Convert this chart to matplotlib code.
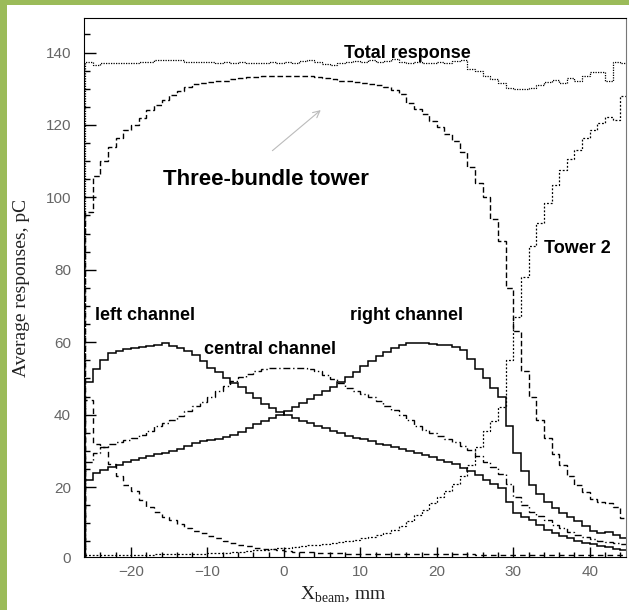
import numpy as np
import matplotlib
matplotlib.use("Agg")
import matplotlib.pyplot as plt
from matplotlib.patches import Rectangle
from matplotlib.ticker import MultipleLocator

plt.rcParams['mathtext.fontset'] = 'custom'
plt.rcParams['mathtext.rm'] = 'Liberation Serif'

# 1 mm bins of beam position
edges = np.arange(-26, 46, 1)

total = [137.3, 136.6, 137, 137.2, 137, 137.1, 137, 137.3, 137.5, 137.8,
         138, 137.8, 137.8, 137.5, 137.4, 137.3, 137.4, 137.2, 137.4, 137.2,
         137.5, 137.2, 137.1, 137.2, 137.5, 137.2, 137.3, 137, 137.6, 137.9,
         137.4, 136.9, 136.6, 137.2, 137.4, 137.6, 137.3, 137.8, 137.5, 137.7,
         138.2, 137.3, 137.2, 137.5, 137.2, 137, 137.4, 137.2, 137.6, 138,
         135.5, 135, 133.5, 132.8, 131.5, 130.2, 130, 130, 130.2, 131,
         131.8, 132.5, 131.5, 133, 132, 133.5, 134.5, 134.5, 132, 137.5, 137]

three_bundle = [96, 106, 110, 114, 116.5, 118.5, 120, 122, 124, 125.5,
                127, 128.2, 129.4, 130.5, 131.2, 131.5, 131.8, 132, 132.2, 132.6,
                133, 133.3, 133.3, 133.4, 133.4, 133.5, 133.5, 133.6, 133.6, 133.5,
                133.3, 133, 132.6, 132.2, 132, 131.8, 131.5, 131.3, 131, 130.4,
                129.6, 128.5, 126, 124.5, 123, 121, 119.5, 117.5, 115.5, 112.5,
                108.5, 104, 100, 94, 88, 75, 63, 52, 45, 38.5,
                33.5, 29, 26, 23, 20.5, 18.5, 16.8, 15.8, 15.5, 14.5, 11.5]

tower1 = [44, 32, 31, 26.5, 23, 20.5, 18.8, 16.5, 14.5, 13,
          11.8, 10.8, 9.7, 8.8, 8, 7.2, 6.5, 5.8, 5.2, 4.6,
          4.1, 3.7, 3.3, 3, 2.8, 2.6, 2.4, 2.2, 2.1, 2,
          1.9, 1.8, 1.7, 1.7, 1.6, 1.6, 1.6, 1.5, 1.5, 1.5,
          1.5, 1.5, 1.4, 1.4, 1.4, 1.4, 1.4, 1.4, 1.4, 1.4,
          1.4, 1.3, 1.3, 1.3, 1.3, 1.3, 1.3, 1.3, 1.3, 1.3,
          1.3, 1.3, 1.3, 1.3, 1.3, 1.3, 1.3, 1.3, 1.3, 1.3, 1.3]

tower2 = [1.3, 1.3, 1.3, 1.3, 1.3, 1.3, 1.3, 1.3, 1.3, 1.4,
          1.4, 1.4, 1.5, 1.5, 1.5, 1.6, 1.7, 1.8, 1.9, 2.0,
          2.1, 2.3, 2.5, 2.7, 2.9, 3.1, 3.3, 3.5, 3.7, 3.9,
          4.1, 4.3, 4.6, 4.9, 5.2, 5.5, 5.9, 6.3, 6.8, 7.4,
          8.2, 9.2, 10.6, 12.2, 13.8, 15.6, 17.3, 19, 20.8, 23,
          26, 31, 35.5, 38.3, 42, 55, 67, 78, 86.5, 93,
          98.5, 103.5, 107.5, 110.5, 113, 116.3, 118.5, 120.5, 122.2, 121.4, 128]

left_ch = [49, 52.5, 55, 57, 57.5, 58, 58.3, 58.6, 59, 59.3,
           59.8, 59, 58.3, 57.5, 56.5, 54.8, 53, 51.8, 50.2, 48.8,
           47.5, 46, 44.6, 43, 41.8, 40.8, 40, 39.2, 38.3, 37.6,
           37, 36.3, 35.6, 34.8, 34.2, 33.6, 33.2, 32.6, 32, 31.6,
           31.2, 30.6, 30, 29.3, 28.8, 28.2, 27.6, 27, 26.3, 25.4,
           24.5, 23.2, 22, 20.8, 19.8, 16, 12.8, 11.6, 10.8, 9.6,
           8.2, 7.3, 6.5, 5.8, 5.2, 4.6, 4.2, 3.8, 3.4, 3.0, 2.6]

central_ch = [27, 29.5, 31, 31.8, 32.4, 33, 33.6, 34.3, 35.5, 36.8,
              37.6, 38.5, 39.6, 41, 42.3, 43.5, 44.8, 46.5, 48, 49.3,
              50.3, 51.2, 52, 52.6, 52.9, 53, 53, 53, 52.9, 52.5,
              52, 51, 49.8, 48.6, 47.4, 46.6, 45.8, 44.8, 43.8, 42.5,
              41.2, 39.8, 38.4, 37, 35.8, 34.9, 34.2, 33.4, 32.4, 31.3,
              30.2, 28.6, 27, 25.6, 23.6, 20.8, 17.3, 15, 13.2, 12,
              10.9, 9.6, 8.6, 7.6, 6.8, 6.1, 5.6, 5.2, 4.9, 4.6, 4.4]

right_ch = [22, 23.8, 24.8, 25.6, 26.2, 26.9, 27.4, 28, 28.5, 29,
            29.5, 30, 30.6, 31.4, 32.1, 32.6, 33, 33.4, 33.8, 34.5,
            35.3, 36.2, 37.3, 38.2, 39, 39.8, 40.9, 42, 43.2, 44.2,
            45.4, 46.6, 47.6, 49, 50.3, 51.8, 53.3, 54.8, 56.2, 57.4,
            58.5, 59.2, 59.7, 59.9, 59.7, 59.5, 59.3, 59.1, 58.7, 57.8,
            55.5, 52.5, 50, 47.3, 45, 37, 29.5, 24.5, 20.5, 18,
            16, 14.2, 12.8, 11.6, 10.6, 9.2, 8, 7.4, 7.6, 6.8, 6]

fig = plt.figure(figsize=(6.29, 6.10), dpi=100)
ax = fig.add_axes([0.134, 0.0869, 0.862, 0.8828])

ax.stairs(total, edges, color='black', lw=0.9, ls=(0, (1, 1)))
ax.stairs(three_bundle, edges, color='black', lw=1.0, ls=(0, (4, 2)))
ax.stairs(tower1, edges, color='black', lw=1.0, ls=(0, (4, 3)))
ax.stairs(tower2, edges, color='black', lw=0.9, ls=(0, (1.5, 1.5)))
ax.stairs(left_ch, edges, color='black', lw=1.1)
ax.stairs(central_ch, edges, color='black', lw=1.0, ls=(0, (5, 2, 1, 2)))
ax.stairs(right_ch, edges, color='black', lw=1.1)

ax.set_xlim(-26.1, 44.8)
ax.set_ylim(0.69, 149.4)
ax.set_xticks([-20, -10, 0, 10, 20, 30, 40])
ax.set_xticklabels(['\u221220', '\u221210', '0', '10', '20', '30', '40'])
ax.set_yticks([20, 40, 60, 80, 100, 120, 140])
ax.xaxis.set_minor_locator(MultipleLocator(2))
ax.yaxis.set_minor_locator(MultipleLocator(5))
ax.tick_params(which='both', direction='in', top=False, right=False,
               labelsize=11, labelcolor='#666666', width=1)
ax.tick_params(axis='x', which='major', length=7, pad=6)
ax.tick_params(axis='x', which='minor', length=3.5)
ax.tick_params(axis='y', which='major', length=8.5, pad=9.5)
ax.tick_params(axis='y', which='minor', length=4.5)
for lab in ax.get_xticklabels() + ax.get_yticklabels():
    lab.set_fontfamily('Liberation Sans')
ax.annotate('0', xy=(0, 0), xycoords=('axes fraction', 'data'),
            xytext=(-9.5, 0), textcoords='offset points', ha='right', va='center',
            fontsize=11, color='#666666', family='Liberation Sans', annotation_clip=False)
ax.spines['right'].set_color('#777777')

# curve labels
bold = dict(family='Liberation Sans', weight='bold', color='black', va='center', ha='left')
ax.text(7.9, 139.8, 'Total response', fontsize=13, **bold)
ax.text(-15.8, 104.8, 'Three-bundle tower', fontsize=16, **bold)
ax.text(-24.7, 67.5, 'left channel', fontsize=13, **bold)
ax.text(-10.5, 57.9, 'central channel', fontsize=13, **bold)
ax.text(8.6, 67.5, 'right channel', fontsize=13, **bold)
ax.text(34.0, 86, 'Tower 2', fontsize=13, **bold)
ax.annotate('', xy=(5.1, 124.6), xytext=(-1.78, 112.4),
            arrowprops=dict(arrowstyle='->', color='#bbbbbb', lw=0.8,
                            mutation_scale=12))

fig.text(0.0345, 0.528, 'Average responses, pC', rotation=90, ha='center', va='center',
         family='Liberation Serif', fontsize=14, color='#222222')
fig.text(0.545, 0.0164, r'X$_{\mathrm{beam}}$, mm', ha='center', va='baseline',
         family='Liberation Serif', fontsize=14, color='#222222')

# green frame strips
green = '#9bbb59'
fig.add_artist(Rectangle((0, 0), 7 / 629, 1, transform=fig.transFigure, color=green, lw=0))
fig.add_artist(Rectangle((0, 1 - 5 / 610), 1, 5 / 610, transform=fig.transFigure, color=green, lw=0))

fig.savefig('out.png', dpi=100)
